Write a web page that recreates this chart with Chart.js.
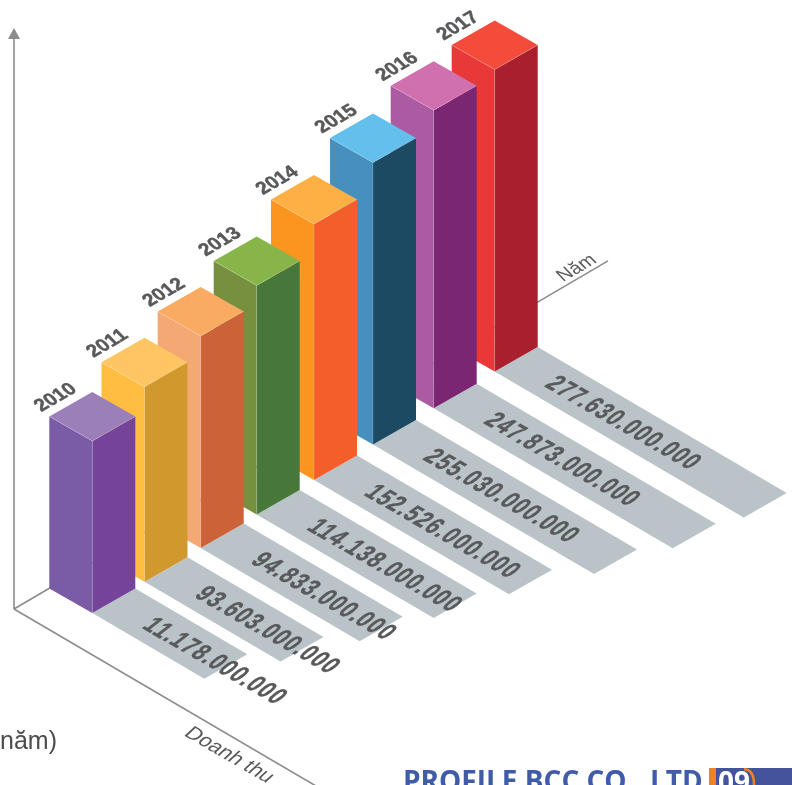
<!DOCTYPE html>
<html>
<head>
<meta charset="utf-8">
<style>
  html, body { margin: 0; padding: 0; background: #fff; overflow: hidden; }
</style>
<script src="https://cdn.jsdelivr.net/npm/chart.js@4"></script>
</head>
<body>
<canvas id="chart" width="792" height="785"></canvas>
<script>
// Doanh thu theo nam
const years = ["2010", "2011", "2012", "2013", "2014", "2015", "2016", "2017"];
const revenue = ["11.178.000.000", "93.603.000.000", "94.833.000.000", "114.138.000.000",
  "152.526.000.000", "255.030.000.000", "247.873.000.000", "277.630.000.000"];
// Spot on the Nam axis, column height, floor strip length
const yearSpots = [78.3, 130.5, 186.7, 242.7, 300, 359, 419.7, 480.7];
const barHeights = [172, 195, 212, 229, 256, 282, 298, 302];
const stripLengths = [112, 136, 159, 177, 195, 221, 239, 249];

const leftColors = ["#7a5ba6", "#ffbd42", "#f4a873", "#76903f", "#fb951f", "#4690bf", "#ac5aa2", "#e93838"];
const rightColors = ["#75439a", "#d1982e", "#cc6238", "#477839", "#f35e2a", "#1c4a63", "#7b2673", "#a91f2e"];
const topColors = ["#9a7fb8", "#fec562", "#faab62", "#88b54a", "#feb044", "#63bfec", "#d170ae", "#f44b3b"];

const HALF_W = 43;
const HALF_D = 24.5;
const SLOPE = 0.6;     // floor rise of the Nam axis
const FRONT = 51;      // front corner of a column below the Nam axis
const SIDE = 0.586;    // floor drop of the Doanh thu axis
const INK = "#58595b";
const AXIS = "#8a8c8e";

function poly(ctx, color, pts) {
  ctx.beginPath();
  pts.forEach((p, i) => i ? ctx.lineTo(p[0], p[1]) : ctx.moveTo(p[0], p[1]));
  ctx.closePath();
  ctx.fillStyle = color;
  ctx.fill();
}

function edge(ctx, a, b) {
  ctx.beginPath();
  ctx.moveTo(a[0], a[1]);
  ctx.lineTo(b[0], b[1]);
  ctx.strokeStyle = "rgba(255,255,255,0.3)";
  ctx.lineWidth = 0.6;
  ctx.stroke();
}

// front bottom corner of a column standing at bar element el
function frontOf(chart, el) {
  const ox = chart.scales.x.getPixelForValue(0);
  return [el.x, el.base + FRONT - SLOPE * (el.x - ox)];
}

const isoColumns = {
  id: "isoColumns",
  afterDatasetsDraw(chart) {
    const ctx = chart.ctx;
    const xs = chart.scales.x;
    const ys = chart.scales.y;
    const bars = chart.getDatasetMeta(0).data;
    const strips = chart.getDatasetMeta(1).data;
    ctx.save();

    // axes
    const ox = xs.getPixelForValue(0);
    const oy = ys.getPixelForValue(0);
    ctx.strokeStyle = AXIS;
    ctx.lineWidth = 1.6;
    ctx.beginPath();
    ctx.moveTo(ox, oy);
    ctx.lineTo(ox, ys.getPixelForValue(570));
    ctx.moveTo(ox, oy);
    ctx.lineTo(xs.getPixelForValue(594), oy - 594 * SIDE);
    ctx.moveTo(ox, oy);
    ctx.lineTo(xs.getPixelForValue(304), oy + 304 * SIDE);
    ctx.stroke();
    poly(ctx, AXIS, [[ox, ys.getPixelForValue(581)], [ox + 6, ys.getPixelForValue(570)], [ox - 6, ys.getPixelForValue(570)]]);

    // floor strips
    bars.forEach((el, i) => {
      const f = frontOf(chart, el);
      const len = strips[i].base - strips[i].y;
      poly(ctx, "#b9c3c8", [
        f,
        [f[0] + HALF_W, f[1] - HALF_D],
        [f[0] + HALF_W + len, f[1] - HALF_D + len * SIDE],
        [f[0] + len, f[1] + len * SIDE]
      ]);
    });

    // columns, back to front
    for (let i = bars.length - 1; i >= 0; i--) {
      const el = bars[i];
      const f = frontOf(chart, el);
      const h = el.base - el.y;
      const x = f[0], y = f[1], t = y - h;
      poly(ctx, leftColors[i], [[x - HALF_W, y - HALF_D], [x, y], [x, t], [x - HALF_W, t - HALF_D]]);
      poly(ctx, rightColors[i], [[x + HALF_W, y - HALF_D], [x, y], [x, t], [x + HALF_W, t - HALF_D]]);
      poly(ctx, topColors[i], [[x, t], [x + HALF_W, t - HALF_D], [x, t - 2 * HALF_D], [x - HALF_W, t - HALF_D]]);
      edge(ctx, [x, t], [x, y]);
      edge(ctx, [x - HALF_W, t - HALF_D], [x, t]);
      edge(ctx, [x, t], [x + HALF_W, t - HALF_D]);
    }

    // labels on the floor and on the column tops
    ctx.fillStyle = INK;
    ctx.strokeStyle = INK;
    ctx.textAlign = "left";
    ctx.textBaseline = "alphabetic";
    bars.forEach((el, i) => {
      const f = frontOf(chart, el);
      ctx.save();
      ctx.font = "bold 28px 'Liberation Sans'";
      ctx.letterSpacing = "2.1px";
      ctx.lineWidth = 0.5;
      ctx.transform(0.866, 0.5, -0.79, 0.61, f[0] + 49, f[1] + 14.5);
      ctx.scale(0.7, 1);
      ctx.fillText(revenue[i], 0, 0);
      ctx.strokeText(revenue[i], 0, 0);
      ctx.restore();

      const t = f[1] - (el.base - el.y);
      ctx.save();
      ctx.font = "bold 20px 'Liberation Sans'";
      ctx.lineWidth = 0.5;
      ctx.transform(0.866, -0.5, 0.7, 0.7, f[0] - 51, t - 29);
      ctx.scale(0.95, 1);
      ctx.fillText(years[i], 0, 0);
      ctx.strokeText(years[i], 0, 0);
      ctx.restore();
    });

    // axis names
    ctx.save();
    ctx.font = "19px 'Liberation Sans'";
    ctx.transform(0.866, -0.5, 0.69, 0.72, 563, 282);
    ctx.fillText("Năm", 0, 0);
    ctx.restore();
    ctx.save();
    ctx.font = "21px 'Liberation Sans'";
    ctx.transform(0.866, 0.5, -0.73, 0.68, 183, 735);
    ctx.fillText("Doanh thu", 0, 0);
    ctx.restore();

    // cut off caption and page footer
    ctx.fillStyle = "#4d4d4f";
    ctx.font = "25px 'Liberation Sans'";
    ctx.fillText("năm)", 0, 749);

    ctx.fillStyle = "#3f5ba9";
    ctx.font = "bold 28px 'Open Sans'";
    ctx.fillText("PROFILE BCC CO., LTD", 403, 791);
    ctx.fillStyle = "#44549c";
    ctx.fillRect(709, 768, 83, 17);
    ctx.fillStyle = "#f58220";
    ctx.fillRect(709, 768, 7, 17);
    ctx.strokeStyle = "#f58220";
    ctx.lineWidth = 2.5;
    ctx.beginPath();
    ctx.moveTo(744, 769.2);
    ctx.quadraticCurveTo(754, 769.2, 754, 785);
    ctx.stroke();
    ctx.fillStyle = "#ffffff";
    ctx.font = "bold 28px 'Open Sans'";
    ctx.fillText("09", 718, 792);
    ctx.restore();
  }
};

new Chart(document.getElementById("chart"), {
  type: "bar",
  data: {
    labels: years,
    datasets: [
      { label: "Cột", data: years.map((y, i) => ({ x: yearSpots[i], y: barHeights[i] })), backgroundColor: "transparent" },
      { label: "Doanh thu", data: years.map((y, i) => ({ x: yearSpots[i], y: stripLengths[i] })), backgroundColor: "transparent" }
    ]
  },
  options: {
    responsive: false,
    animation: false,
    layout: { padding: 0 },
    plugins: { legend: { display: false }, tooltip: { enabled: false } },
    scales: {
      x: { type: "linear", display: false, offset: false, min: -14, max: 778 },
      y: { display: false, min: -176, max: 609 }
    },
    datasets: { bar: { grouped: false } }
  },
  plugins: [isoColumns]
});
</script>
</body>
</html>
